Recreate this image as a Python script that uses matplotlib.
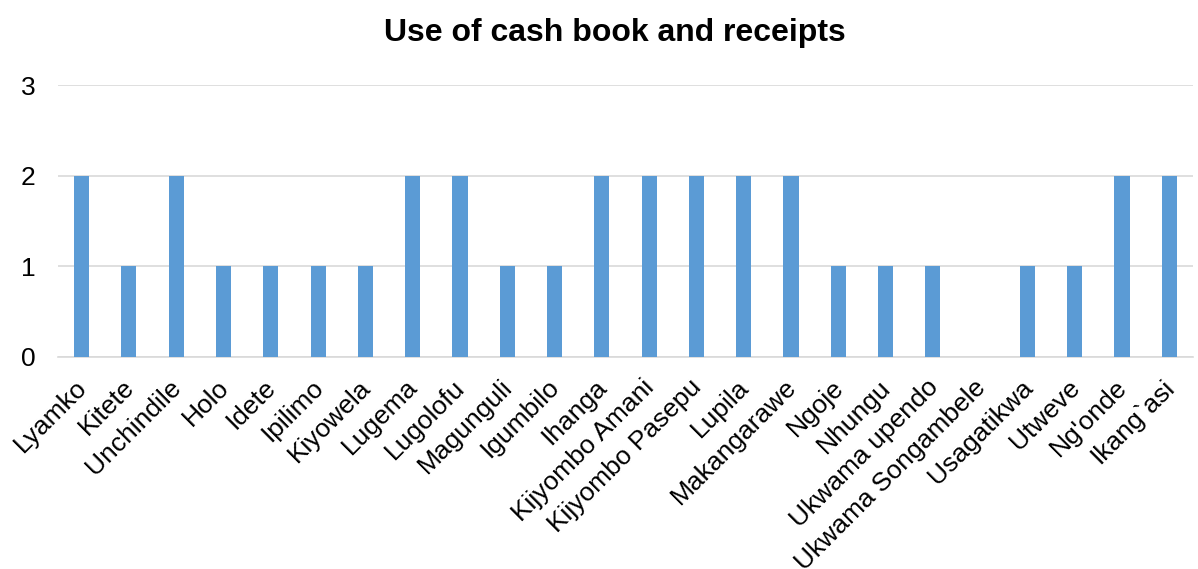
import matplotlib
matplotlib.use("Agg")
import matplotlib.pyplot as plt
import matplotlib.transforms as mtransforms
import numpy as np

plt.rcParams['font.family'] = ['Liberation Sans', 'DejaVu Sans']

villages = ["Lyamko", "Kitete", "Unchindile", "Holo", "Idete", "Ipilimo", "Kiyowela",
            "Lugema", "Lugolofu", "Magunguli", "Igumbilo", "Ihanga", "Kijyombo Amani",
            "Kijyombo Pasepu", "Lupila", "Makangarawe", "Ngoje", "Nhungu", "Ukwama upendo",
            "Ukwama Songambele", "Usagatikwa", "Utweve", "Ng'onde", "Ikang`asi"]
counts = [2, 1, 2, 1, 1, 1, 1, 2, 2, 1, 1, 2, 2, 2, 2, 2, 1, 1, 1, 0, 1, 1, 2, 2]
title = "Use of cash book and receipts"

fig = plt.figure(figsize=(11.98, 5.69), dpi=100)
ax = fig.add_axes([0.0484, 0.3726, 0.9474, 0.478])

x = np.arange(len(villages))
ax.bar(x, counts, width=0.32, color="#5B9BD5", zorder=3)

ax.set_xlim(-0.5, len(villages) - 0.5)
ax.set_ylim(0, 3)
ax.set_yticks([0, 1, 2, 3])
ax.yaxis.grid(True, color="#D9D9D9", linewidth=1.2, zorder=0)
ax.set_axisbelow(True)
for s in ["top", "right", "left"]:
    ax.spines[s].set_visible(False)
ax.spines["bottom"].set_color("#D9D9D9")
ax.spines["bottom"].set_linewidth(1.2)

ax.set_xticks(x)
ax.set_xticklabels(villages, rotation=45, ha="right", va="top")
ax.tick_params(axis="both", length=0, labelsize=19, colors="black")
ax.tick_params(axis="x", pad=13)
ax.tick_params(axis="y", pad=16)

# nudge category labels to the right
shift = mtransforms.ScaledTranslation(10 / 100, 0, fig.dpi_scale_trans)
for lbl in ax.get_xticklabels():
    lbl.set_transform(lbl.get_transform() + shift)

fig.suptitle(title, x=0.5135, y=0.968, fontsize=23, fontweight="bold")

fig.savefig("out.png", dpi=100)
